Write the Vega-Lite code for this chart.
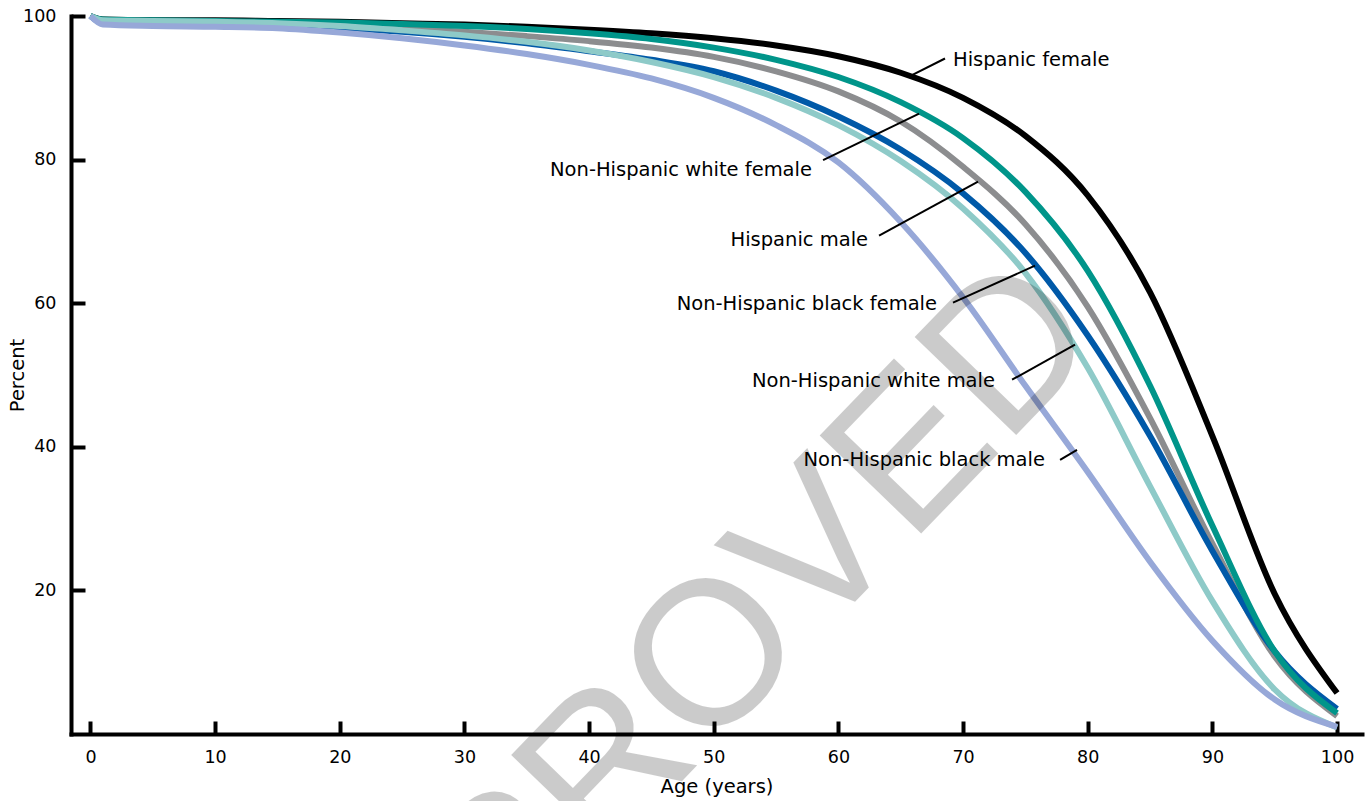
{
  "$schema": "https://vega.github.io/schema/vega-lite/v6.json",
  "width": 1291,
  "height": 718,
  "autosize": {"type": "none"},
  "padding": {"left": 71, "top": 16, "right": 7, "bottom": 67},
  "background": "white",
  "config": {"view": {"stroke": null}, "font": "DejaVu Sans"},
  "datasets": {
    "curves": [
      {"g":"Hispanic female","a":0,"p":100},{"g":"Hispanic female","a":1,"p":99.5},{"g":"Hispanic female","a":5,"p":99.4},{"g":"Hispanic female","a":10,"p":99.4},{"g":"Hispanic female","a":15,"p":99.3},{"g":"Hispanic female","a":20,"p":99.2},{"g":"Hispanic female","a":25,"p":99.0},{"g":"Hispanic female","a":30,"p":98.8},{"g":"Hispanic female","a":35,"p":98.5},{"g":"Hispanic female","a":40,"p":98.1},{"g":"Hispanic female","a":45,"p":97.6},{"g":"Hispanic female","a":50,"p":96.9},{"g":"Hispanic female","a":55,"p":95.9},{"g":"Hispanic female","a":60,"p":94.4},{"g":"Hispanic female","a":65,"p":92.1},{"g":"Hispanic female","a":70,"p":88.6},{"g":"Hispanic female","a":75,"p":83.3},{"g":"Hispanic female","a":80,"p":75.0},{"g":"Hispanic female","a":85,"p":61.5},{"g":"Hispanic female","a":90,"p":41.5},{"g":"Hispanic female","a":95,"p":19.5},{"g":"Hispanic female","a":100,"p":5.7},
      {"g":"Hispanic male","a":0,"p":100},{"g":"Hispanic male","a":1,"p":99.4},{"g":"Hispanic male","a":5,"p":99.3},{"g":"Hispanic male","a":10,"p":99.2},{"g":"Hispanic male","a":15,"p":99.1},{"g":"Hispanic male","a":20,"p":98.8},{"g":"Hispanic male","a":25,"p":98.3},{"g":"Hispanic male","a":30,"p":97.8},{"g":"Hispanic male","a":35,"p":97.2},{"g":"Hispanic male","a":40,"p":96.5},{"g":"Hispanic male","a":45,"p":95.6},{"g":"Hispanic male","a":50,"p":94.3},{"g":"Hispanic male","a":55,"p":92.3},{"g":"Hispanic male","a":60,"p":89.5},{"g":"Hispanic male","a":65,"p":85.3},{"g":"Hispanic male","a":70,"p":79.0},{"g":"Hispanic male","a":75,"p":71.0},{"g":"Hispanic male","a":80,"p":59.5},{"g":"Hispanic male","a":85,"p":44.0},{"g":"Hispanic male","a":90,"p":26.5},{"g":"Hispanic male","a":95,"p":10.8},{"g":"Hispanic male","a":100,"p":2.5},
      {"g":"Non-Hispanic black female","a":0,"p":100},{"g":"Non-Hispanic black female","a":1,"p":99.0},{"g":"Non-Hispanic black female","a":5,"p":98.9},{"g":"Non-Hispanic black female","a":10,"p":98.8},{"g":"Non-Hispanic black female","a":15,"p":98.6},{"g":"Non-Hispanic black female","a":20,"p":98.3},{"g":"Non-Hispanic black female","a":25,"p":97.8},{"g":"Non-Hispanic black female","a":30,"p":97.1},{"g":"Non-Hispanic black female","a":35,"p":96.2},{"g":"Non-Hispanic black female","a":40,"p":95.1},{"g":"Non-Hispanic black female","a":45,"p":93.9},{"g":"Non-Hispanic black female","a":50,"p":92.3},{"g":"Non-Hispanic black female","a":55,"p":89.6},{"g":"Non-Hispanic black female","a":60,"p":86.0},{"g":"Non-Hispanic black female","a":65,"p":81.4},{"g":"Non-Hispanic black female","a":70,"p":75.3},{"g":"Non-Hispanic black female","a":75,"p":67.0},{"g":"Non-Hispanic black female","a":80,"p":55.5},{"g":"Non-Hispanic black female","a":85,"p":41.5},{"g":"Non-Hispanic black female","a":90,"p":25.5},{"g":"Non-Hispanic black female","a":95,"p":11.5},{"g":"Non-Hispanic black female","a":100,"p":3.5},
      {"g":"Non-Hispanic white female","a":0,"p":100},{"g":"Non-Hispanic white female","a":1,"p":99.5},{"g":"Non-Hispanic white female","a":5,"p":99.4},{"g":"Non-Hispanic white female","a":10,"p":99.3},{"g":"Non-Hispanic white female","a":15,"p":99.2},{"g":"Non-Hispanic white female","a":20,"p":99.1},{"g":"Non-Hispanic white female","a":25,"p":98.9},{"g":"Non-Hispanic white female","a":30,"p":98.6},{"g":"Non-Hispanic white female","a":35,"p":98.2},{"g":"Non-Hispanic white female","a":40,"p":97.6},{"g":"Non-Hispanic white female","a":45,"p":96.8},{"g":"Non-Hispanic white female","a":50,"p":95.6},{"g":"Non-Hispanic white female","a":55,"p":93.9},{"g":"Non-Hispanic white female","a":60,"p":91.5},{"g":"Non-Hispanic white female","a":65,"p":88.0},{"g":"Non-Hispanic white female","a":70,"p":83.0},{"g":"Non-Hispanic white female","a":75,"p":75.5},{"g":"Non-Hispanic white female","a":80,"p":64.5},{"g":"Non-Hispanic white female","a":85,"p":48.5},{"g":"Non-Hispanic white female","a":90,"p":29.0},{"g":"Non-Hispanic white female","a":95,"p":11.5},{"g":"Non-Hispanic white female","a":100,"p":2.9},
      {"g":"Non-Hispanic white male","a":0,"p":100},{"g":"Non-Hispanic white male","a":1,"p":99.4},{"g":"Non-Hispanic white male","a":5,"p":99.3},{"g":"Non-Hispanic white male","a":10,"p":99.2},{"g":"Non-Hispanic white male","a":15,"p":99.0},{"g":"Non-Hispanic white male","a":20,"p":98.6},{"g":"Non-Hispanic white male","a":25,"p":98.0},{"g":"Non-Hispanic white male","a":30,"p":97.3},{"g":"Non-Hispanic white male","a":35,"p":96.4},{"g":"Non-Hispanic white male","a":40,"p":95.2},{"g":"Non-Hispanic white male","a":45,"p":93.6},{"g":"Non-Hispanic white male","a":50,"p":91.5},{"g":"Non-Hispanic white male","a":55,"p":88.6},{"g":"Non-Hispanic white male","a":60,"p":84.8},{"g":"Non-Hispanic white male","a":65,"p":79.8},{"g":"Non-Hispanic white male","a":70,"p":73.2},{"g":"Non-Hispanic white male","a":75,"p":64.2},{"g":"Non-Hispanic white male","a":80,"p":51.0},{"g":"Non-Hispanic white male","a":85,"p":34.5},{"g":"Non-Hispanic white male","a":90,"p":18.5},{"g":"Non-Hispanic white male","a":95,"p":6.2},{"g":"Non-Hispanic white male","a":100,"p":0.9},
      {"g":"Non-Hispanic black male","a":0,"p":100},{"g":"Non-Hispanic black male","a":1,"p":98.8},{"g":"Non-Hispanic black male","a":5,"p":98.6},{"g":"Non-Hispanic black male","a":10,"p":98.5},{"g":"Non-Hispanic black male","a":15,"p":98.3},{"g":"Non-Hispanic black male","a":20,"p":97.7},{"g":"Non-Hispanic black male","a":25,"p":96.9},{"g":"Non-Hispanic black male","a":30,"p":95.9},{"g":"Non-Hispanic black male","a":35,"p":94.7},{"g":"Non-Hispanic black male","a":40,"p":93.2},{"g":"Non-Hispanic black male","a":45,"p":91.3},{"g":"Non-Hispanic black male","a":50,"p":88.6},{"g":"Non-Hispanic black male","a":55,"p":84.8},{"g":"Non-Hispanic black male","a":60,"p":79.6},{"g":"Non-Hispanic black male","a":65,"p":71.3},{"g":"Non-Hispanic black male","a":70,"p":60.8},{"g":"Non-Hispanic black male","a":75,"p":48.5},{"g":"Non-Hispanic black male","a":80,"p":36.5},{"g":"Non-Hispanic black male","a":85,"p":24.0},{"g":"Non-Hispanic black male","a":90,"p":13.0},{"g":"Non-Hispanic black male","a":95,"p":4.8},{"g":"Non-Hispanic black male","a":100,"p":1.0}
    ],
    "labels": [
      {"t":"Hispanic female","x":69.19,"y":93.94,"side":"left"},
      {"t":"Non-Hispanic white female","x":57.88,"y":78.61,"side":"right"},
      {"t":"Hispanic male","x":62.38,"y":68.85,"side":"right"},
      {"t":"Non-Hispanic black female","x":67.91,"y":59.93,"side":"right"},
      {"t":"Non-Hispanic white male","x":72.56,"y":49.2,"side":"right"},
      {"t":"Non-Hispanic black male","x":76.57,"y":38.19,"side":"right"}
    ],
    "leaders": [
      {"x":65.66,"y":91.57,"x2":68.55,"y2":94.08},
      {"x":58.77,"y":79.94,"x2":66.47,"y2":86.41},
      {"x":63.26,"y":69.41,"x2":71.2,"y2":76.93},
      {"x":69.19,"y":60.07,"x2":75.77,"y2":65.23},
      {"x":73.93,"y":49.34,"x2":78.98,"y2":54.22},
      {"x":77.78,"y":38.19,"x2":79.14,"y2":39.58}
    ],
    "mark": [
      {"t":"APPROVED","x":78.0,"y":60.8}
    ]
  },
  "layer": [
    {
      "data": {"name": "curves"},
      "mark": {"type": "line", "strokeWidth": 6, "interpolate": "monotone"},
      "encoding": {
        "x": {"field": "a", "type": "quantitative",
          "scale": {"domain": [-1.56, 102.0], "nice": false, "zero": false},
          "axis": {"values": [0,10,20,30,40,50,60,70,80,90,100], "grid": false, "tickSize": -13, "tickWidth": 4, "tickColor": "black", "domainColor": "black", "domainWidth": 4, "domainCap": "square", "labelPadding": 27, "labelFontSize": 17.5, "labelColor": "black", "labelFlush": false, "title": "Age (years)", "titleFontSize": 19.5, "titleFontWeight": "normal", "titleColor": "black", "titlePadding": 12}},
        "y": {"field": "p", "type": "quantitative",
          "scale": {"domain": [0, 100], "nice": false, "zero": false},
          "axis": {"values": [20,40,60,80,100], "grid": false, "tickSize": -14, "tickWidth": 4, "tickColor": "black", "domainColor": "black", "domainWidth": 4, "domainCap": "square", "labelPadding": 29, "labelFontSize": 17.5, "labelColor": "black", "labelFlush": false, "title": "Percent", "titleFontSize": 19.5, "titleFontWeight": "normal", "titleColor": "black", "titlePadding": -5}},
        "color": {"field": "g", "type": "nominal", "legend": null,
          "scale": {"domain": ["Hispanic female","Hispanic male","Non-Hispanic black female","Non-Hispanic white female","Non-Hispanic white male","Non-Hispanic black male"],
                    "range": ["#000000","#8c8d8f","#0059a8","#00958a","#8ecac8","#97a8d8"]}}
      }
    },
    {
      "data": {"name": "leaders"},
      "mark": {"type": "rule", "strokeWidth": 2, "color": "black"},
      "encoding": {
        "x": {"field": "x", "type": "quantitative"},
        "y": {"field": "y", "type": "quantitative"},
        "x2": {"field": "x2"},
        "y2": {"field": "y2"}
      }
    },
    {
      "data": {"name": "labels"},
      "transform": [{"filter": "datum.side === 'right'"}],
      "mark": {"type": "text", "align": "right", "baseline": "middle", "fontSize": 19.5, "color": "black"},
      "encoding": {
        "x": {"field": "x", "type": "quantitative"},
        "y": {"field": "y", "type": "quantitative"},
        "text": {"field": "t"}
      }
    },
    {
      "data": {"name": "labels"},
      "transform": [{"filter": "datum.side === 'left'"}],
      "mark": {"type": "text", "align": "left", "baseline": "middle", "fontSize": 19.5, "color": "black"},
      "encoding": {
        "x": {"field": "x", "type": "quantitative"},
        "y": {"field": "y", "type": "quantitative"},
        "text": {"field": "t"}
      }
    },
    {
      "data": {"name": "mark"},
      "mark": {"type": "text", "align": "right", "baseline": "middle", "fontSize": 205, "font": "Liberation Sans", "angle": -46, "color": "black", "opacity": 0.2},
      "encoding": {
        "x": {"field": "x", "type": "quantitative"},
        "y": {"field": "y", "type": "quantitative"},
        "text": {"field": "t"}
      }
    }
  ]
}
